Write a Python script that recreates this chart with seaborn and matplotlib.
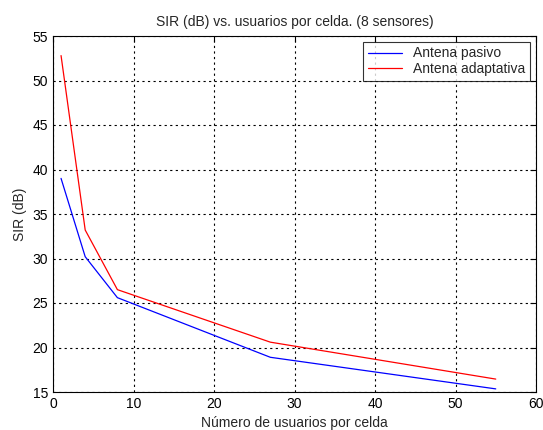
import matplotlib
matplotlib.use("Agg")
import matplotlib.pyplot as plt
import seaborn as sns
import pandas as pd

usuarios = [1, 4, 8, 27, 55]
sir_pasivo = [39.0, 30.2, 25.6, 18.9, 15.35]
sir_adaptativa = [52.8, 33.2, 26.5, 20.6, 16.45]
series_names = ["Antena pasivo", "Antena adaptativa"]
colors = ["#0000ff", "#ff0000"]
xticks = [0, 10, 20, 30, 40, 50, 60]
yticks = [15, 20, 25, 30, 35, 40, 45, 50, 55]

df = pd.DataFrame({
    "x": usuarios * 2,
    "y": sir_pasivo + sir_adaptativa,
    "serie": [series_names[0]] * len(usuarios) + [series_names[1]] * len(usuarios),
})

sns.set_style("white")
plt.rcParams["font.family"] = ["Liberation Sans", "DejaVu Sans"]

fig = plt.figure(figsize=(5.43, 4.30), dpi=100)
ax = fig.add_axes([53/543, 38/430, (536-53)/543, (392-36)/430])

sns.lineplot(data=df, x="x", y="y", hue="serie", palette=colors,
             hue_order=series_names, ax=ax, linewidth=0.9, legend=True)

ax.set_xlim(0, 60)
ax.set_ylim(15, 55)
ax.set_xticks(xticks)
ax.set_yticks(yticks)
ax.tick_params(direction="in", top=True, right=True, labelsize=10, length=4, width=0.8, colors="black")
ax.grid(True, color="black", linestyle=(0, (2, 3)), linewidth=0.8)
for s in ax.spines.values():
    s.set_color("black")
    s.set_linewidth(0.8)
ax.set_xlabel("Número de usuarios por celda", fontsize=10)
ax.set_ylabel("SIR (dB)", fontsize=10)
ax.set_title("SIR (dB) vs. usuarios por celda. (8 sensores)", fontsize=10, pad=7)

leg = ax.legend(loc="upper right", fontsize=10, frameon=True, fancybox=False,
                edgecolor="black", borderpad=0.35, labelspacing=0.1,
                handlelength=2.4, handletextpad=0.85, borderaxespad=0.4)
leg.get_frame().set_linewidth(0.8)

fig.savefig("out.png", dpi=100, facecolor="white")
